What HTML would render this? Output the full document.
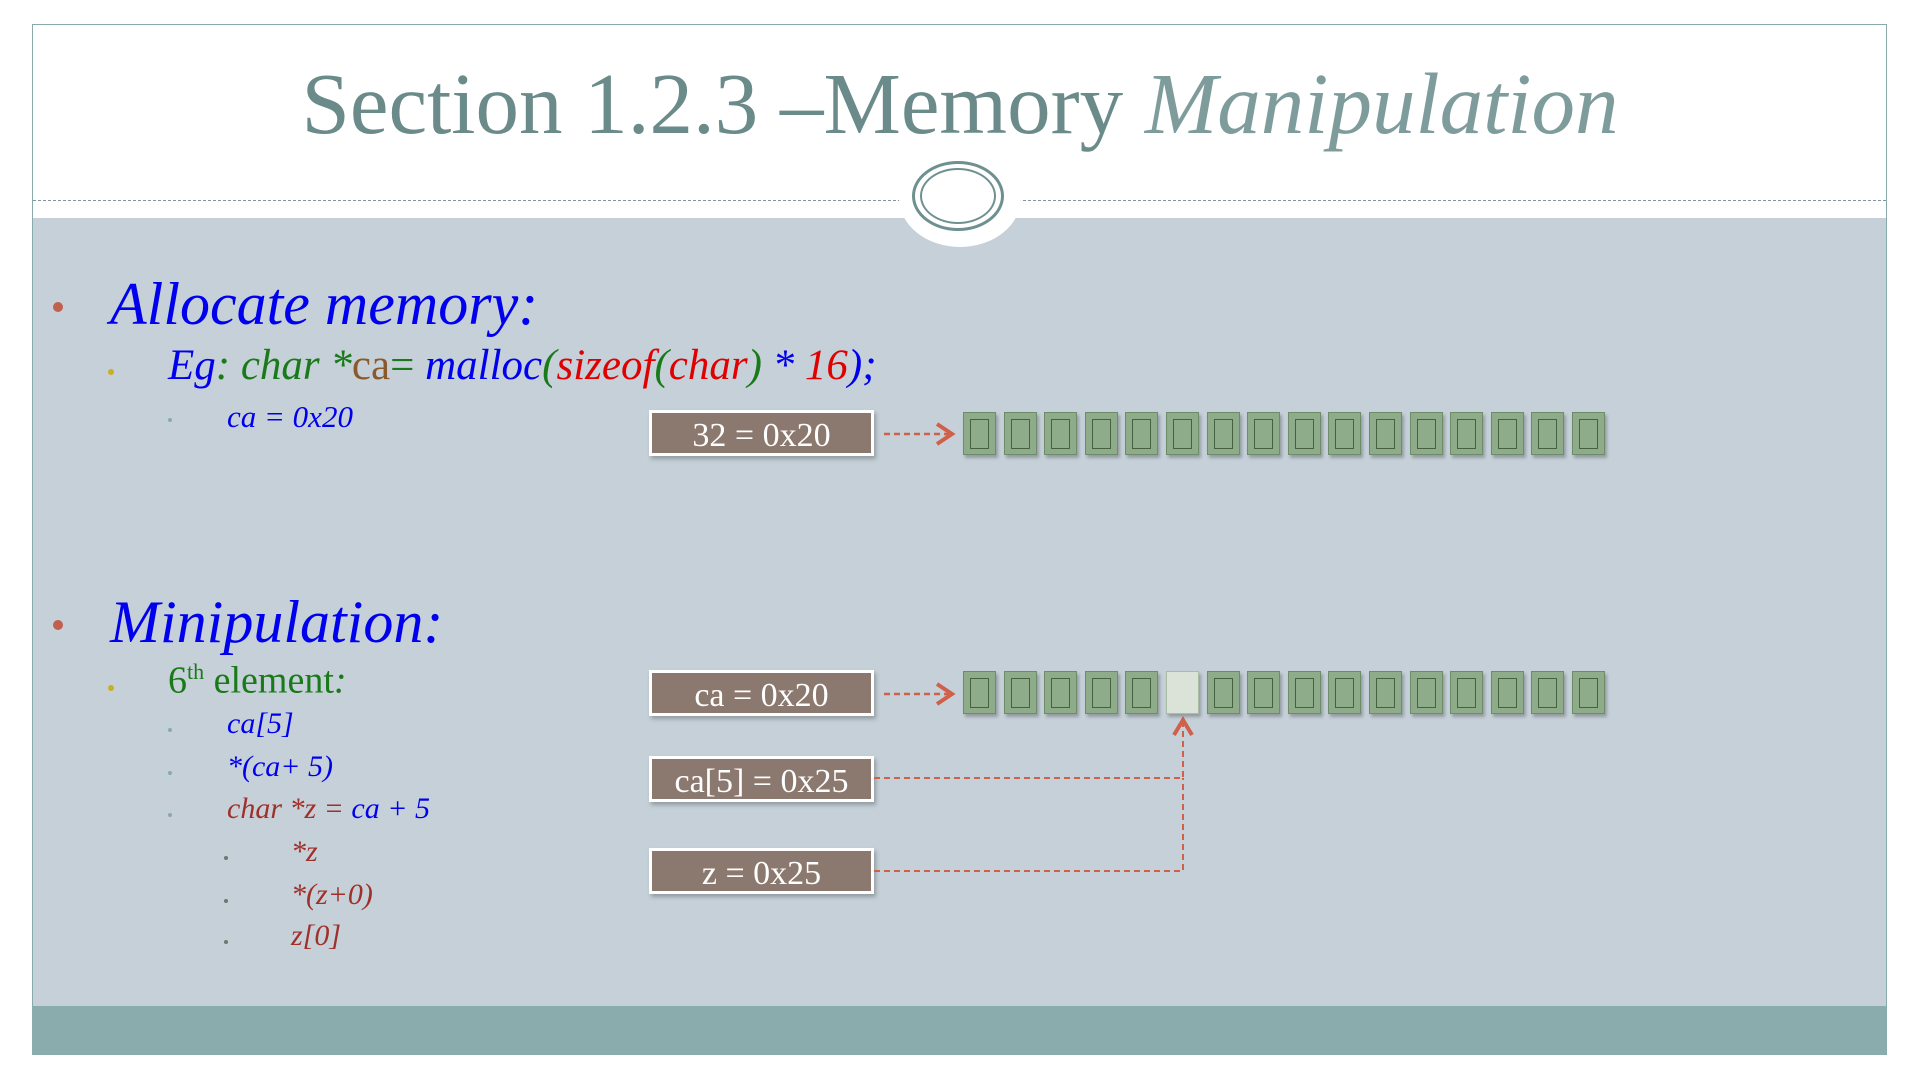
<!DOCTYPE html>
<html><head><meta charset="utf-8"><style>
body{margin:0;width:1920px;height:1080px;background:#fff;position:relative;overflow:hidden;font-family:"Liberation Serif",serif}
.a{position:absolute;white-space:nowrap;line-height:1}
.box{position:absolute;left:649px;width:219px;height:40px;background:#8b786e;border:3px solid #fff;box-shadow:2px 3px 4px rgba(0,0,0,.25);color:#fff;font-size:34px;text-align:center;line-height:46px}
.cell{position:absolute;width:31px;height:41px;background:#8fac8a;border:1px solid #6f8c6a;box-shadow:2px 3px 3px rgba(0,0,0,.25)}
.cell::after{content:"";position:absolute;left:6px;top:6px;width:17px;height:28px;border:1.5px solid #46613f}
.cell.hl{background:#dbe3d8;border-color:#aabba6}
.cell.hl::after{display:none}
.dot{position:absolute;border-radius:50%}
</style></head><body>
<div style="position:absolute;left:32px;top:24px;width:1855px;height:1031px;border:1px solid #8aa;box-sizing:border-box;background:#c5d0d8"></div>
<div style="position:absolute;left:33px;top:25px;width:1853px;height:193px;background:#fff"></div>
<div style="position:absolute;left:33px;top:200px;width:1853px;border-top:1.5px dashed #7f969e"></div>
<div style="position:absolute;left:899px;top:149px;width:122px;height:98px;border-radius:50%;background:#fff"></div>
<div style="position:absolute;left:912px;top:161px;width:92px;height:70px;border-radius:50%;border:3px solid #6f9090;box-sizing:border-box"></div>
<div style="position:absolute;left:920px;top:168px;width:76px;height:56px;border-radius:50%;border:2.5px solid #6f9090;box-sizing:border-box"></div>
<div style="position:absolute;left:32px;top:1006px;width:1855px;height:49px;background:#8aacac"></div>
<div class="a" style="left:0;width:1920px;text-align:center;top:60px;font-size:87px;color:#6b8a8a">Section 1.2.3 –Memory <i style="color:#7f9c9c">Manipulation</i></div>

<div class="dot" style="left:53px;top:302px;width:10px;height:10px;background:#c0604d"></div>
<div class="a" style="left:110px;top:274px;font-size:60px;color:#0000ee;font-style:italic">Allocate memory:</div>
<div class="dot" style="left:108px;top:369px;width:6px;height:6px;background:#c8b020"></div>
<div class="a" style="left:168px;top:344px;font-size:43px;font-style:italic;color:#0000ee">Eg<span style="color:#1a7a1a">: char *</span><span style="color:#8b5a2b;font-style:normal">ca</span><span style="color:#1a7a1a;font-style:normal">=</span> malloc<span style="color:#1a7a1a">(</span><span style="color:#e00000">sizeof</span><span style="color:#1a7a1a">(</span><span style="color:#e00000">char</span><span style="color:#1a7a1a">)</span> * <span style="color:#e00000">16</span>);</div>
<div class="dot" style="left:168px;top:418px;width:4px;height:4px;background:#8aa"></div>
<div class="a" style="left:227px;top:401px;font-size:31px;font-style:italic;color:#0000ee">ca = 0x20</div>

<div class="dot" style="left:53px;top:620px;width:10px;height:10px;background:#c0604d"></div>
<div class="a" style="left:110px;top:592px;font-size:60px;color:#0000ee;font-style:italic">Minipulation:</div>
<div class="dot" style="left:108px;top:685px;width:6px;height:6px;background:#c8b020"></div>
<div class="a" style="left:168px;top:661px;font-size:38px;color:#1a7a1a">6<sup style="font-size:22px">th</sup> element<i>:</i></div>
<div class="dot" style="left:168px;top:728px;width:4px;height:4px;background:#8aa"></div>
<div class="a" style="left:227px;top:709px;font-size:30px;font-style:italic;color:#0000ee">ca[5]</div>
<div class="dot" style="left:168px;top:771px;width:4px;height:4px;background:#8aa"></div>
<div class="a" style="left:227px;top:752px;font-size:30px;font-style:italic;color:#0000ee">*(ca+ 5)</div>
<div class="dot" style="left:168px;top:813px;width:4px;height:4px;background:#8aa"></div>
<div class="a" style="left:227px;top:794px;font-size:30px;font-style:italic;color:#a0302a">char *z = <span style="color:#0000ee">ca + 5</span></div>
<div class="dot" style="left:224px;top:856px;width:4px;height:4px;background:#6a7a70"></div>
<div class="a" style="left:291px;top:837px;font-size:30px;font-style:italic;color:#a0302a">*z</div>
<div class="dot" style="left:224px;top:899px;width:4px;height:4px;background:#6a7a70"></div>
<div class="a" style="left:291px;top:880px;font-size:30px;font-style:italic;color:#a0302a">*(z+0)</div>
<div class="dot" style="left:224px;top:940px;width:4px;height:4px;background:#6a7a70"></div>
<div class="a" style="left:291px;top:921px;font-size:30px;font-style:italic;color:#a0302a">z[0]</div>

<div class="box" style="top:410px">32 = 0x20</div>
<div class="box" style="top:670px">ca = 0x20</div>
<div class="box" style="top:756px">ca[5] = 0x25</div>
<div class="box" style="top:848px">z = 0x25</div>

<svg style="position:absolute;left:0;top:0" width="1920" height="1080">
<g stroke="#d0604a" stroke-width="2.5" fill="none">
<line x1="884" y1="434" x2="948" y2="434" stroke-dasharray="6,4"/>
<polyline points="937,424 952,434 937,444" stroke-width="4"/>
<line x1="884" y1="694" x2="948" y2="694" stroke-dasharray="6,4"/>
<polyline points="937,684 952,694 937,704" stroke-width="4"/>
<polyline points="874,778 1183,778 1183,723" stroke-dasharray="6,4" stroke-width="2"/>
<polyline points="874,871 1183,871 1183,778" stroke-dasharray="6,4" stroke-width="2"/>
<polyline points="1174,735 1183,720 1192,735" stroke-width="4"/>
</g></svg>

<script>
for(let r=0;r<2;r++){for(let i=0;i<16;i++){const d=document.createElement('div');d.className='cell'+(r==1&&i==5?' hl':'');d.style.left=(963+i*40.6)+'px';d.style.top=(r?671:412)+'px';document.body.appendChild(d);}}
</script>
</body></html>
